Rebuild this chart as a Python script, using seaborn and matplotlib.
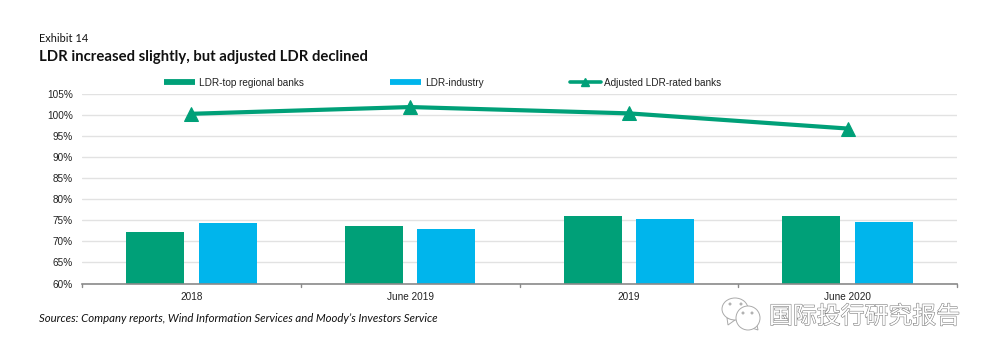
import matplotlib
matplotlib.use("Agg")
import matplotlib.pyplot as plt
import matplotlib.patheffects as pe
from matplotlib.lines import Line2D
from matplotlib.patches import Ellipse, Polygon
import seaborn as sns
import pandas as pd

periods = ["2018", "June 2019", "2019", "June 2020"]
top_regional = [72.2, 73.7, 76.1, 76.0]
industry = [74.3, 72.9, 75.4, 74.6]
adjusted = [100.3, 101.9, 100.4, 96.8]
yticks = list(range(60, 106, 5))
series_names = ["LDR-top regional banks", "LDR-industry", "Adjusted LDR-rated banks"]
GREEN, BLUE = "#00A078", "#00B5EC"

sns.set_theme(style="white")
plt.rcParams["font.family"] = ["Liberation Sans", "DejaVu Sans"]

W, H = 992, 358
fig = plt.figure(figsize=(W / 100, H / 100), dpi=100)
ax = fig.add_axes([82 / W, 1 - 283.5 / H, 875 / W, 189.5 / H])

df = pd.DataFrame({
    "period": periods * 2,
    "value": top_regional + industry,
    "series": [series_names[0]] * 4 + [series_names[1]] * 4,
})
sns.barplot(data=df, x="period", y="value", hue="series", order=periods,
            palette=[GREEN, BLUE], width=0.663, gap=0.2, legend=False,
            saturation=1, linewidth=0, ax=ax, zorder=2)
sns.lineplot(x=periods, y=adjusted, color=GREEN, lw=3, marker="^", ms=10,
             markeredgecolor=GREEN, sort=False, ax=ax, zorder=3)

ax.set_xlim(-0.5, 3.5)
ax.set_ylim(60, 105)
ax.set_yticks(yticks)
ax.set_yticklabels([f"{v}%" for v in yticks], fontsize=7.2, color="#222222")
ax.set_xlabel("")
ax.set_ylabel("")
ax.grid(axis="y", color="#E2E2E2", lw=1)
ax.set_axisbelow(True)
for s in ["top", "left", "right"]:
    ax.spines[s].set_visible(False)
ax.spines["bottom"].set_color("#8A8A8A")
ax.spines["bottom"].set_linewidth(1.2)
ax.set_xticks(range(4))
ax.set_xticklabels(periods, fontsize=7.2, color="#222222")
ax.tick_params(axis="x", length=0, pad=6)
ax.tick_params(axis="y", length=0, pad=6.5)
for i in range(5):
    ax.plot([i - 0.5] * 2, [0, -0.016], transform=ax.get_xaxis_transform(),
            color="#8A8A8A", lw=1, clip_on=False)

handles = [
    Line2D([], [], color=GREEN, lw=4.2, solid_capstyle="butt"),
    Line2D([], [], color=BLUE, lw=4.2, solid_capstyle="butt"),
    Line2D([], [], color=GREEN, lw=2.6, marker="^", ms=5.5),
]
fig.legend(handles, series_names, ncol=3, frameon=False, fontsize=7.2,
           loc="center left", bbox_to_anchor=(161 / W, 1 - 82.5 / H),
           handlelength=3.1, handletextpad=0.4, columnspacing=8.6,
           labelcolor="#222222", borderaxespad=0, borderpad=0.3)

TXT = ["Lato", "DejaVu Sans"]
fig.text(39 / W, 1 - 39 / H, "Exhibit 14", fontsize=7.9, family=TXT, color="#111111", va="center")
fig.text(39 / W, 1 - 57 / H, "LDR increased slightly, but adjusted LDR declined", fontsize=10.7,
         family=TXT, weight="bold", color="#111111", va="center")
fig.text(39 / W, 1 - 318 / H, "Sources: Company reports, Wind Information Services and Moody\u2019s Investors Service",
         fontsize=8.18, family=TXT, style="italic", color="#111111", va="center")

# watermark
fig.text(769 / W, 1 - 317 / H, "国际投行研究报告", fontsize=17.2,
         family=["Noto Sans CJK SC", "DejaVu Sans"], color="white", va="center",
         path_effects=[pe.withStroke(linewidth=0.8, foreground="#808080")])
wm = fig.add_axes([0, 0, 1, 1], facecolor="none")
wm.set_xlim(0, W)
wm.set_ylim(H, 0)
wm.axis("off")
for cx, cy, w, h, tail in [(735, 309, 26, 22, [(727, 318), (728, 325), (735, 320)]),
                           (748, 318, 24, 24, [(752, 328), (758, 330), (757, 325)])]:
    wm.add_patch(Polygon(tail, fc="white", ec="#AAAAAA", lw=0.7))
    wm.add_patch(Ellipse((cx, cy), w, h, fc="white", ec="#AAAAAA", lw=0.7))
for ex, ey in [(730, 304), (741, 304), (743, 313), (752, 313)]:
    wm.add_patch(Ellipse((ex, ey), 2, 2, fc="white", ec="#999999", lw=0.6))

fig.savefig("out.png", dpi=100, facecolor="white")
